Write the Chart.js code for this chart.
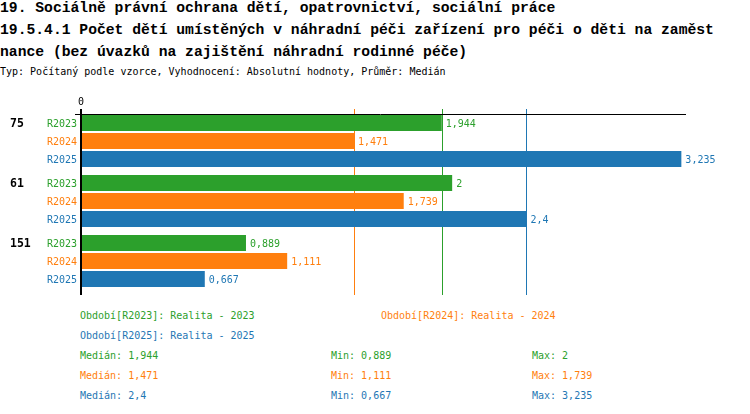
<!DOCTYPE html>
<html>
<head>
<meta charset="utf-8">
<script src="https://cdn.jsdelivr.net/npm/chart.js@4/dist/chart.umd.min.js"></script>
<style>
  body { margin: 0; width: 750px; height: 414px; overflow: hidden; background: #fff; font-family: "DejaVu Sans Mono", monospace; position: relative; }
  #title { position: absolute; left: 0; top: -3px; font-family: "Liberation Mono", monospace; font-size: 14.7px; font-weight: bold; line-height: 22px; white-space: pre; color: #000; }
  #subtitle { position: absolute; left: 0; top: 66px; font-size: 10px; line-height: 12px; white-space: pre; color: #000; }
  #chartBox { position: absolute; left: 0; top: 95px; }
  #chartBox canvas { display: block; }
  .leg { position: absolute; font-size: 10px; line-height: 20px; white-space: pre; }
</style>
</head>
<body>
<div id="title">19. Sociálně právní ochrana dětí, opatrovnictví, sociální práce
19.5.4.1 Počet dětí umístěných v náhradní péči zařízení pro péči o děti na zaměst
nance (bez úvazků na zajištění náhradní rodinné péče)</div>
<div id="subtitle">Typ: Počítaný podle vzorce, Vyhodnocení: Absolutní hodnoty, Průměr: Medián</div>
<div id="chartBox"><canvas id="myChart" width="750" height="205"></canvas></div>
<div id="legend"></div>
<script>
var categories = ['75', '61', '151'];
var seriesNames = ['R2023', 'R2024', 'R2025'];
var seriesTitles = ['Realita - 2023', 'Realita - 2024', 'Realita - 2025'];
var r2023 = [1.944, 2, 0.889];
var r2024 = [1.471, 1.739, 1.111];
var r2025 = [3.235, 2.4, 0.667];
var seriesValues = [r2023, r2024, r2025];
var colors = ['#2ca02c', '#ff7f0e', '#1f77b4'];
var axisMax = 3.26;

function fmt(v) {
	return String(v).replace('.', ',');
}

function median(arr) {
	var s = arr.slice().sort(function (a, b) { return a - b; });
	var m = Math.floor(s.length / 2);
	if (s.length % 2) return s[m];
	return (s[m - 1] + s[m]) / 2;
}

var medians = seriesValues.map(median);

// legend + stats under the chart
function addLegend() {
	var box = document.getElementById('legend');
	var rows = [
		[[80, 306, 0, 'Období[' + seriesNames[0] + ']: ' + seriesTitles[0]], [381, 306, 1, 'Období[' + seriesNames[1] + ']: ' + seriesTitles[1]]],
		[[80, 326, 2, 'Období[' + seriesNames[2] + ']: ' + seriesTitles[2]]]
	];
	var i;
	for (i = 0; i < seriesValues.length; i++) {
		var top = 346 + i * 20;
		rows.push([
			[80, top, i, 'Medián: ' + fmt(medians[i])],
			[331, top, i, 'Min: ' + fmt(Math.min.apply(null, seriesValues[i]))],
			[532, top, i, 'Max: ' + fmt(Math.max.apply(null, seriesValues[i]))]
		]);
	}
	rows.forEach(function (row) {
		row.forEach(function (c) {
			var d = document.createElement('div');
			d.className = 'leg';
			d.style.left = c[0] + 'px';
			d.style.top = c[1] + 'px';
			d.style.color = colors[c[2]];
			d.textContent = c[3];
			box.appendChild(d);
		});
	});
}
addLegend();

var labelsPlugin = {
	id: 'labelsPlugin',
	beforeDatasetsDraw: function (chart) {
		var ctx = chart.ctx, x = chart.scales.x, area = chart.chartArea;
		ctx.save();
		ctx.lineWidth = 1;
		for (var i = 0; i < medians.length; i++) {
			var px = Math.round(x.getPixelForValue(medians[i])) + 0.5;
			ctx.strokeStyle = colors[i];
			ctx.beginPath();
			ctx.moveTo(px, area.top - 2);
			ctx.lineTo(px, area.bottom + 4);
			ctx.stroke();
		}
		ctx.restore();
	},
	afterDatasetsDraw: function (chart) {
		var ctx = chart.ctx, x = chart.scales.x, area = chart.chartArea;
		var x0 = Math.round(x.getPixelForValue(0));
		ctx.save();
		// axes
		ctx.strokeStyle = '#000';
		ctx.lineWidth = 1;
		ctx.beginPath();
		ctx.moveTo(x0 - 6, area.top + 3.5);
		ctx.lineTo(area.right, area.top + 3.5);
		ctx.stroke();
		ctx.lineWidth = 2;
		ctx.beginPath();
		ctx.moveTo(x0, area.top - 2);
		ctx.lineTo(x0, area.bottom + 4);
		ctx.stroke();

		ctx.font = '10px "DejaVu Sans Mono"';
		ctx.fillStyle = '#000';
		ctx.textAlign = 'center';
		ctx.textBaseline = 'middle';
		ctx.fillText('0', x0, area.top - 9);

		for (var d = 0; d < chart.data.datasets.length; d++) {
			var meta = chart.getDatasetMeta(d);
			meta.data.forEach(function (bar, j) {
				ctx.fillStyle = colors[d];
				ctx.font = '10px "DejaVu Sans Mono"';
				ctx.textAlign = 'left';
				ctx.fillText(fmt(seriesValues[d][j]), bar.x + 4, bar.y + 1);
				ctx.textAlign = 'right';
				ctx.fillText(seriesNames[d], area.left - 4, bar.y + 1);
				if (d == 0) {
					ctx.fillStyle = '#000';
					ctx.font = 'bold 11.5px "DejaVu Sans Mono"';
					ctx.textAlign = 'left';
					ctx.fillText(categories[j], 10, bar.y + 1);
				}
			});
		}
		ctx.restore();
	}
};

var datasets = [];
for (var i = 0; i < seriesNames.length; i++) {
	datasets.push({
		label: seriesNames[i],
		data: seriesValues[i],
		backgroundColor: colors[i],
		borderWidth: 0,
		categoryPercentage: 0.9,
		barPercentage: 0.88
	});
}

window.chart = new Chart(document.getElementById('myChart').getContext('2d'), {
	type: 'bar',
	data: { labels: categories, datasets: datasets },
	options: {
		indexAxis: 'y',
		responsive: false,
		animation: false,
		devicePixelRatio: 1,
		layout: { padding: { left: 81, right: 64, top: 16, bottom: 9 } },
		scales: {
			x: { display: false, min: 0, max: axisMax },
			y: { display: false }
		},
		plugins: { legend: { display: false }, tooltip: { enabled: false } }
	},
	plugins: [labelsPlugin]
});
</script>
</body>
</html>
